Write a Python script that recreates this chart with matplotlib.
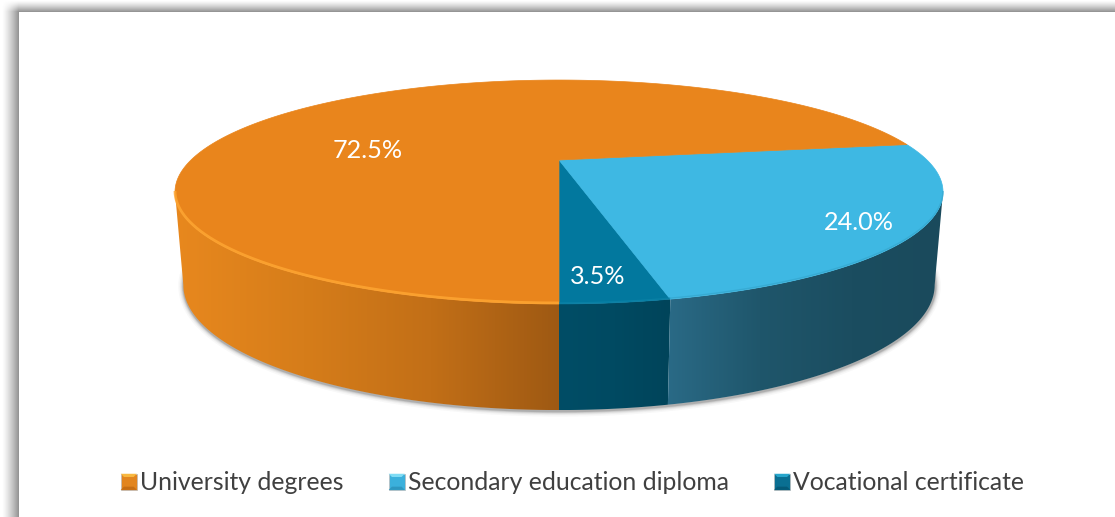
import numpy as np
import matplotlib
matplotlib.use("Agg")
import matplotlib.pyplot as plt
from matplotlib.colors import LinearSegmentedColormap
from matplotlib.legend_handler import HandlerBase
from matplotlib.patches import Polygon, Rectangle

plt.rcParams["font.family"] = ["Lato", "DejaVu Sans"]

# Share of respondents by qualification
categories = ["University degrees", "Secondary education diploma", "Vocational certificate"]
shares = [72.5, 24.0, 3.5]

W, H = 1115, 517
CX = 559.0
TILT = -0.2857            # perspective term of the disc
TOP_D, TOP_A, TOP_B = 368.0, 57.1, 160.0
BOT_D, BOT_A, BOT_B = 360.0, 43.6, 249.3
FRONT_LIMIT = np.degrees(np.arccos(-TILT))  # silhouette of the cylinder

TOP_COLORS = {"University degrees": "#E9851C",
              "Secondary education diploma": "#3EB8E3",
              "Vocational certificate": "#02789E"}
SIDE_STOPS = {"University degrees": ["#E8881E", "#D67D1A", "#C26F17", "#9E5913"],
              "Secondary education diploma": ["#2A6A86", "#1F566B", "#1B4D60", "#1A4A5C"],
              "Vocational certificate": ["#004D66", "#004A62", "#00445A"]}
EDGE_COLORS = {"University degrees": ("#FFA733", 2.0),
               "Secondary education diploma": ("#35A8D0", 1.0),
               "Vocational certificate": ("#0B83A8", 1.0)}
LABEL_XY = [(368, 150), (859, 222), (598, 276)]


def disc(phi_deg, d, a, b):
    """Project an angle, clockwise from the front of the pie, onto a disc."""
    phi = np.radians(phi_deg)
    u, v = np.sin(phi), np.cos(phi)
    w = 1 + TILT * v
    return CX + d * u / w, (b + a * v) / w


def top(phi):
    return disc(phi, TOP_D, TOP_A, TOP_B)


def bottom(phi):
    return disc(phi, BOT_D, BOT_A, BOT_B)


fig = plt.figure(figsize=(W / 100, H / 100), dpi=100)
ax = fig.add_axes([0, 0, 1, 1])
ax.set_axis_off()

# Soft drop shadow of the chart frame along its left and top edges
xs, ys = np.meshgrid(np.arange(W) + 0.5, np.arange(H) + 0.5)
fade_x = np.clip((xs - 2) / 16.5, 0, 1) ** 1.3
fade_y = np.clip((ys - 0.5) / 11.0, 0, 1) ** 1.3
frame = np.ones((H, W, 4))
frame[..., :3] = 0.58
frame[..., 3] = fade_x * fade_y * 0.98
ax.imshow(frame, extent=(0, W, H, 0), aspect="auto", zorder=0, interpolation="bilinear")
ax.add_patch(Rectangle((18.5, 11.5), W, H, facecolor="white", edgecolor="none", zorder=1))

# Shadow under the cylinder: stacked translucent strokes along the base outline
ring = np.linspace(-FRONT_LIMIT - 6, FRONT_LIMIT + 6, 300)
bx, by = bottom(ring)
for lw, alpha in [(8, 0.04), (6, 0.06), (4.5, 0.09), (3, 0.15), (1.8, 0.22)]:
    ax.plot(bx + 0.5, by + 1.0, color="#505050", lw=lw, alpha=alpha, zorder=2,
            solid_capstyle="round")

# Angular extent of each slice: starts at the front and runs clockwise,
# smallest slice first
order = [2, 1, 0]
start = 0.0
spans = {}
for i in order:
    sweep = shares[i] * 3.6
    spans[i] = (start, start + sweep)
    start += sweep

# Side walls, each with its own horizontal gradient
for i in order:
    a, b = spans[i]
    name = categories[i]
    visible = []
    if a < FRONT_LIMIT:
        visible.append((a, min(b, FRONT_LIMIT)))
    if b > 360 - FRONT_LIMIT:
        visible.append((max(a, 360 - FRONT_LIMIT), b))
    for lo, hi in visible:
        phi = np.linspace(lo, hi, 160)
        tx, ty = top(phi)
        ux, uy = bottom(phi)
        pts = np.column_stack([np.r_[tx, ux[::-1]], np.r_[ty, uy[::-1]]])
        poly = Polygon(pts, closed=True, facecolor="none", edgecolor="none",
                       transform=ax.transData)
        ax.add_patch(poly)
        cmap = LinearSegmentedColormap.from_list(name, SIDE_STOPS[name])
        x0, x1 = pts[:, 0].min(), pts[:, 0].max()
        im = ax.imshow(np.linspace(0, 1, 256)[None, :], cmap=cmap, aspect="auto",
                       extent=(x0, x1, pts[:, 1].max(), pts[:, 1].min()), zorder=3)
        im.set_clip_path(poly)

# Top faces of the slices, all meeting at the projected centre of the disc
apex = (CX, TOP_B)
for i in order:
    a, b = spans[i]
    name = categories[i]
    phi = np.linspace(a, b, 400)
    tx, ty = top(phi)
    ax.add_patch(Polygon(np.column_stack([np.r_[apex[0], tx], np.r_[apex[1], ty]]),
                         closed=True, facecolor=TOP_COLORS[name],
                         edgecolor=TOP_COLORS[name], lw=0.5, zorder=4))

# Lit rim along the front of the top face
for i in order:
    a, b = spans[i]
    name = categories[i]
    lo, hi = a, b
    if b > 360 - FRONT_LIMIT:
        lo = max(a, 360 - FRONT_LIMIT)
    else:
        hi = min(b, FRONT_LIMIT)
    rx, ry = top(np.linspace(lo, hi, 200))
    color, lw = EDGE_COLORS[name]
    ax.plot(rx, ry - 1, color=color, lw=lw, alpha=0.8, zorder=5, solid_capstyle="butt")

# Value labels
for value, (lx, ly) in zip(shares, LABEL_XY):
    ax.text(lx, ly, f"{value:.1f}%", color="white", fontsize=18.2,
            ha="center", va="center", zorder=6)


class BevelHandler(HandlerBase):
    """Small bevelled square used as the legend key."""

    def __init__(self, base, light, dark, **kw):
        super().__init__(**kw)
        self.base, self.light, self.dark = base, light, dark

    def create_artists(self, legend, orig, xd, yd, width, height, fontsize, trans):
        s = 11.6
        x0, y0 = (width - s) / 2 - xd, (height - s) / 2 - yd
        m = s * 0.2
        outer = [(x0, y0), (x0 + s, y0), (x0 + s, y0 + s), (x0, y0 + s)]
        inner = [(x0 + m, y0 + m), (x0 + s - m, y0 + m), (x0 + s - m, y0 + s - m), (x0 + m, y0 + s - m)]
        return [
            Polygon(outer, closed=True, facecolor=self.base, edgecolor="#BBBBBB", lw=0.5, transform=trans),
            Polygon([outer[3], outer[2], inner[2], inner[3]], closed=True, facecolor=self.light, edgecolor="none", transform=trans),
            Polygon([outer[0], outer[1], inner[1], inner[0]], closed=True, facecolor=self.dark, edgecolor="none", transform=trans),
        ]


BEVELS = [("#E2851F", "#F8B840", "#C66E14"),
          ("#3BB0DC", "#7FDCF5", "#2E97C0"),
          ("#0A6F92", "#27A6CC", "#055A78")]
handles = [Rectangle((0, 0), 1, 1) for _ in categories]
legend = ax.legend(handles, categories, ncol=3, frameon=False, fontsize=17.85,
                   labelcolor="#404040", loc="center",
                   bbox_to_anchor=((119 + 1026) / 2 / W, 1 - 483 / H),
                   bbox_transform=fig.transFigure,
                   handlelength=0.66, handleheight=0.7, handletextpad=0.12,
                   columnspacing=1.82, borderpad=0, borderaxespad=0,
                   handler_map={h: BevelHandler(*b) for h, b in zip(handles, BEVELS)})
legend.set_zorder(7)

ax.set_xlim(0, W)
ax.set_ylim(H, 0)
fig.savefig("out.png", dpi=100, facecolor="white")
